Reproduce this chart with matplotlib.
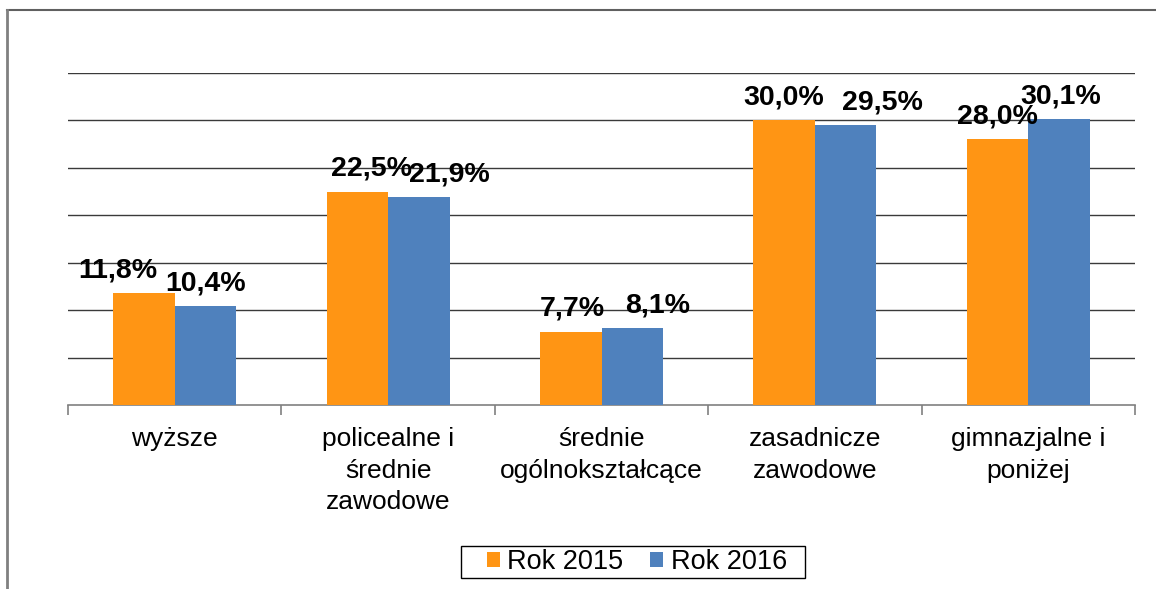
import matplotlib
matplotlib.use("Agg")
import matplotlib.pyplot as plt
from matplotlib.lines import Line2D
from matplotlib.patches import Rectangle
import numpy as np

categories = ["wyższe", "policealne i\nśrednie\nzawodowe", "średnie\nogólnokształcące",
              "zasadnicze\nzawodowe", "gimnazjalne i\nponiżej"]
rok_2015 = [11.8, 22.5, 7.7, 30.0, 28.0]
rok_2016 = [10.4, 21.9, 8.1, 29.5, 30.1]
series_names = ["Rok 2015", "Rok 2016"]
# label x-offsets in pixels (as placed in the original)
off_2015 = [-26, 14, 2, 0, 0]
off_2016 = [0, 31, 25, 37, 2]

orange = "#FF9514"
blue = "#4F81BD"

plt.rcParams['font.family'] = ['Liberation Sans', 'DejaVu Sans']

W, H = 1156, 589
fig = plt.figure(figsize=(W/100, H/100), dpi=100)
ax = fig.add_axes([68/W, 184/H, 1067/W, 332/H])

x = np.arange(len(categories))
w = 0.288
b1 = ax.bar(x - w/2, rok_2015, w, color=orange, label=series_names[0], zorder=3)
b2 = ax.bar(x + w/2, rok_2016, w, color=blue, label=series_names[1], zorder=3)

ax.set_xlim(-0.5, len(categories) - 0.5)
ax.set_ylim(0, 35)
ax.set_yticks(np.arange(5, 36, 5))
ax.yaxis.grid(True, color="#3a3a3a", lw=1, zorder=0)
ax.tick_params(axis='y', left=False, labelleft=False)
for s in ["left", "right", "top"]:
    ax.spines[s].set_visible(False)
ax.spines["bottom"].set_color("#808080")
ax.spines["bottom"].set_linewidth(1.2)

ax.set_xticks(np.arange(-0.5, len(categories), 1.0))
ax.set_xticklabels([])
ax.tick_params(axis='x', which='major', length=7, color="#808080", width=1.2, direction='out')
ax.set_xticks(x, minor=True)
ax.set_xticklabels(categories, minor=True, fontsize=19, linespacing=1.42, va='top')
ax.tick_params(axis='x', which='minor', length=0, pad=15.5)

def fmt(v):
    return f"{v:.1f}%".replace(".", ",")

for bars, vals, offs in ((b1, rok_2015, off_2015), (b2, rok_2016, off_2016)):
    for r, v, o in zip(bars, vals, offs):
        ax.annotate(fmt(v), (r.get_x() + r.get_width()/2, v), xytext=(o, 16),
                    textcoords="offset pixels", ha="center", va="baseline",
                    fontsize=20.5, fontweight="bold", zorder=5)

leg = fig.legend(handles=[b1, b2], labels=series_names, loc="center",
                 bbox_to_anchor=(637/W, 1 - 562/H), ncol=2, frameon=False,
                 fontsize=19.5, handlelength=0.48, handleheight=0.48,
                 handletextpad=0.27, columnspacing=1.0, borderpad=0, borderaxespad=0)
fig.add_artist(Rectangle((461/W, 1 - 578/H), 344/W, 32/H, transform=fig.transFigure,
                         fill=False, edgecolor="#000000", lw=1.0))

# outer frame (top and left visible)
fig.add_artist(Line2D([7/W, 1.0], [1 - 10/H, 1 - 10/H], transform=fig.transFigure,
                      color="#606060", lw=1.5))
fig.add_artist(Line2D([7/W, 7/W], [0, 1 - 10/H], transform=fig.transFigure,
                      color="#808080", lw=2))

fig.savefig("out.png", dpi=100)
